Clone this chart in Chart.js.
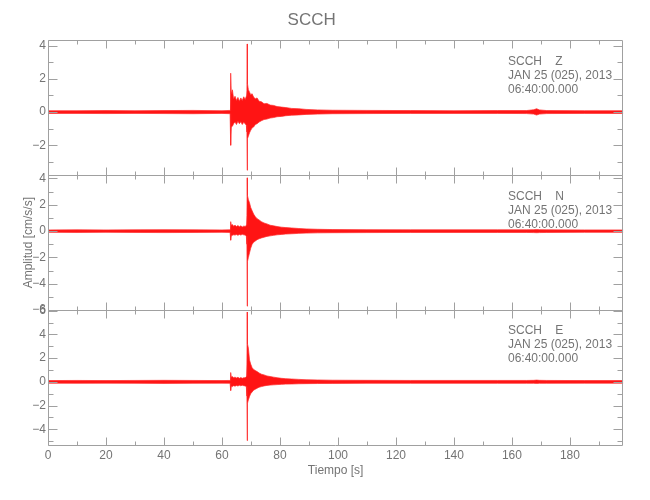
<!DOCTYPE html>
<html>
<head>
<meta charset="utf-8">
<script src="https://cdn.jsdelivr.net/npm/chart.js@4.4.1/dist/chart.umd.min.js"></script>
<style>
  html, body { margin: 0; padding: 0; background: #fff; }
  #wrap { width: 650px; height: 500px; position: relative; }
</style>
</head>
<body>
<div id="wrap"><canvas id="seis"></canvas></div>
<script>
const FONT = "'Liberation Sans', Arial, sans-serif";
const TEXT = '#747474';
const FRAME = '#a0a0a0';

const station = 'SCCH';
const channels = ['Z', 'N', 'E'];
const dateLine = 'JAN 25 (025), 2013';
const timeLine = '06:40:00.000';

// time (s) and trace envelopes
const tSec = [0, 10, 20, 30, 40, 50, 60, 62.8, 63.0, 63.2,
  63.6, 64.0, 64.5, 65.0, 65.5, 66.0, 66.5, 67.0, 67.5, 68.0,
  68.4, 68.6, 68.7, 68.8, 69.1, 69.5, 69.9, 70.4, 70.9, 71.5,
  72.1, 72.8, 73.6, 74.5, 75.5, 76.6, 77.8, 79.0, 80.5, 82.0,
  84.0, 86.5, 89.0, 93.0, 98.0, 110, 125, 140, 155, 165,
  167.5, 168.5, 169.5, 172, 185, 198.4];

const upZ = [0.08, 0.08, 0.09, 0.08, 0.09, 0.10, 0.08, 0.10, 2.34, 1.10,
  1.34, 0.80, 0.95, 0.70, 0.88, 0.65, 0.85, 0.70, 0.92, 0.75,
  0.95, 1.30, 4.10, 1.70, 1.35, 1.20, 1.05, 1.10, 0.90, 0.80,
  0.85, 0.65, 0.62, 0.50, 0.52, 0.42, 0.40, 0.33, 0.30, 0.27,
  0.22, 0.20, 0.16, 0.13, 0.11, 0.10, 0.09, 0.08, 0.09, 0.09,
  0.14, 0.20, 0.13, 0.09, 0.08, 0.08];
const loZ = [-0.08, -0.08, -0.09, -0.08, -0.09, -0.10, -0.08, -0.10, -2.00, -0.90,
  -0.85, -0.70, -0.60, -0.75, -0.55, -0.70, -0.58, -0.75, -0.62, -0.70,
  -0.80, -1.20, -3.50, -1.60, -1.45, -1.25, -1.10, -0.95, -0.90, -0.75,
  -0.70, -0.60, -0.52, -0.45, -0.42, -0.36, -0.33, -0.28, -0.26, -0.22,
  -0.19, -0.17, -0.14, -0.12, -0.10, -0.09, -0.08, -0.08, -0.08, -0.09,
  -0.12, -0.18, -0.12, -0.09, -0.08, -0.08];

const upN = [0.09, 0.10, 0.09, 0.10, 0.11, 0.10, 0.09, 0.10, 0.72, 0.45,
  0.50, 0.38, 0.45, 0.35, 0.42, 0.33, 0.40, 0.32, 0.38, 0.36,
  0.45, 1.20, 4.05, 2.70, 2.40, 2.15, 1.80, 1.55, 1.30, 1.10,
  0.95, 0.85, 0.72, 0.62, 0.55, 0.45, 0.40, 0.35, 0.30, 0.27,
  0.24, 0.20, 0.17, 0.14, 0.12, 0.11, 0.10, 0.10, 0.10, 0.10,
  0.11, 0.12, 0.11, 0.10, 0.09, 0.09];
const loN = [-0.09, -0.10, -0.09, -0.10, -0.11, -0.10, -0.09, -0.10, -0.69, -0.35,
  -0.32, -0.28, -0.30, -0.26, -0.32, -0.25, -0.30, -0.24, -0.28, -0.30,
  -0.38, -1.00, -5.70, -2.30, -2.00, -1.65, -1.30, -1.00, -0.85, -0.75,
  -0.65, -0.58, -0.52, -0.46, -0.40, -0.36, -0.32, -0.28, -0.25, -0.22,
  -0.20, -0.17, -0.15, -0.13, -0.12, -0.11, -0.10, -0.10, -0.10, -0.10,
  -0.11, -0.12, -0.11, -0.10, -0.09, -0.09];

const upE = [0.11, 0.12, 0.11, 0.12, 0.13, 0.12, 0.11, 0.12, 0.79, 0.40,
  0.45, 0.35, 0.40, 0.33, 0.38, 0.30, 0.36, 0.30, 0.35, 0.34,
  0.45, 1.50, 5.90, 3.20, 2.85, 1.85, 1.50, 1.20, 1.05, 0.95,
  0.87, 0.75, 0.65, 0.59, 0.50, 0.45, 0.40, 0.35, 0.30, 0.27,
  0.24, 0.21, 0.18, 0.16, 0.14, 0.13, 0.12, 0.12, 0.12, 0.12,
  0.13, 0.15, 0.13, 0.12, 0.11, 0.11];
const loE = [-0.11, -0.12, -0.11, -0.12, -0.13, -0.12, -0.11, -0.12, -0.73, -0.38,
  -0.40, -0.32, -0.36, -0.30, -0.35, -0.28, -0.33, -0.28, -0.32, -0.34,
  -0.42, -1.20, -4.96, -1.80, -1.52, -1.24, -1.00, -0.85, -0.70, -0.62,
  -0.54, -0.45, -0.40, -0.34, -0.30, -0.27, -0.25, -0.23, -0.21, -0.19,
  -0.18, -0.16, -0.15, -0.14, -0.13, -0.12, -0.12, -0.12, -0.12, -0.12,
  -0.12, -0.13, -0.12, -0.12, -0.11, -0.11];

// axis limits per panel
const xMax = 198.4;
const yMinZ = -3.8, yMaxZ = 4.32;
const yMinN = -6.0, yMaxN = 4.25;
const yMinE = -5.33, yMaxE = 6.06;

function pts(t, v) { return t.map((x, i) => ({ x: x, y: v[i] })); }

function band(axis, up, lo) {
  const line = { borderColor: 'rgba(255,40,40,0.7)', borderWidth: 1, pointRadius: 0, tension: 0, yAxisID: axis };
  return [
    Object.assign({ data: pts(tSec, up), fill: false }, line),
    Object.assign({ data: pts(tSec, lo), fill: '-1', backgroundColor: 'rgba(255,0,0,0.92)' }, line)
  ];
}

const minus = v => (v < 0 ? '\u2212' + Math.abs(v) : String(v));

function yAxis(min, max, weight, title) {
  return {
    type: 'linear', position: 'left', stack: 'seis', stackWeight: 1, weight: weight,
    min: min, max: max,
    grid: { display: false, drawTicks: false }, border: { display: false },
    ticks: { stepSize: 2, includeBounds: false, autoSkip: false, color: TEXT, padding: 2, font: { family: FONT, size: 12 }, callback: minus },
    title: title ? { display: true, text: title, color: TEXT, font: { family: FONT, size: 12 }, padding: { top: 21.8, bottom: 0 } } : { display: false },
    afterFit: s => { s.width = 48; }
  };
}

const framePlugin = {
  id: 'frames',
  afterDatasetsDraw(chart) {
    const { ctx, chartArea, scales } = chart;
    const x = scales.x;
    const L = Math.round(chartArea.left) + 0.5;
    const R = Math.round(chartArea.right) - 0.5;
    ctx.save();
    ctx.strokeStyle = FRAME;
    ctx.lineWidth = 1;
    ['yZ', 'yN', 'yE'].forEach((id, i) => {
      const ys = scales[id];
      const T = Math.round(ys.top) + 0.5;
      const B = Math.round(ys.bottom) + 0.5;
      ctx.beginPath();
      ctx.rect(L, T, R - L, B - T);
      for (let v = 0; v <= xMax; v += 10) {
        const px = Math.round(x.getPixelForValue(v)) + 0.5;
        const len = v % 20 === 0 ? 8 : 4;
        ctx.moveTo(px, T); ctx.lineTo(px, T + len);
        ctx.moveTo(px, B); ctx.lineTo(px, B - len);
      }
      for (let v = Math.ceil(ys.min); v <= Math.floor(ys.max); v++) {
        const py = Math.round(ys.getPixelForValue(v)) + 0.5;
        const len = v % 2 === 0 ? 9 : 5;
        ctx.moveTo(L, py); ctx.lineTo(L + len, py);
        ctx.moveTo(R, py); ctx.lineTo(R - len, py);
      }
      ctx.stroke();

      ctx.fillStyle = TEXT;
      ctx.font = '12px ' + FONT;
      ctx.textBaseline = 'middle';
      ctx.textAlign = 'left';
      ctx.fillText(station + '    ' + channels[i], 508, ys.top + 21);
      ctx.fillText(dateLine, 508, ys.top + 35);
      ctx.fillText(timeLine, 508, ys.top + 49);
    });
    ctx.restore();
  }
};

new Chart(document.getElementById('seis'), {
  type: 'line',
  data: {
    datasets: [].concat(
      band('yZ', upZ, loZ),
      band('yN', upN, loN),
      band('yE', upE, loE)
    )
  },
  options: {
    responsive: true,
    maintainAspectRatio: false,
    animation: false,
    layout: { padding: { left: 0, right: 26.7, top: 0, bottom: 0 } },
    plugins: {
      legend: { display: false },
      tooltip: { enabled: false },
      title: {
        display: true, text: station, color: TEXT,
        font: { family: FONT, size: 17, weight: 'normal', lineHeight: 1.2 },
        padding: { top: 10, bottom: 9.9 }
      }
    },
    scales: {
      x: {
        type: 'linear', position: 'bottom', min: 0, max: xMax,
        grid: { display: false, drawTicks: false }, border: { display: false },
        ticks: { stepSize: 20, includeBounds: false, autoSkip: false, color: TEXT, padding: 3, maxRotation: 0, font: { family: FONT, size: 12 } },
        title: { display: true, text: 'Tiempo [s]', color: TEXT, font: { family: FONT, size: 12 }, padding: { top: 0, bottom: 21.8 } },
        afterFit: s => { s.height = 55; }
      },
      yZ: yAxis(yMinZ, yMaxZ, 3, null),
      yN: yAxis(yMinN, yMaxN, 2, 'Amplitud [cm/s/s]'),
      yE: yAxis(yMinE, yMaxE, 1, null)
    }
  },
  plugins: [framePlugin]
});
</script>
</body>
</html>
